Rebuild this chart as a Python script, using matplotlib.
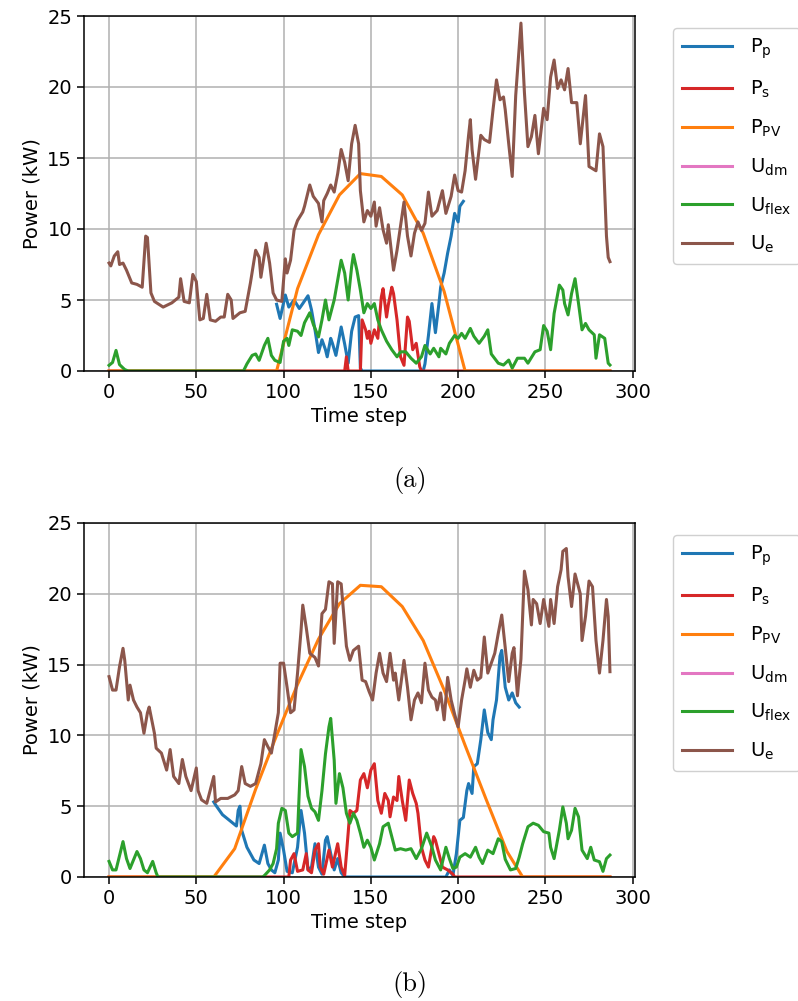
import numpy as np
import matplotlib
matplotlib.use('Agg')
import matplotlib.pyplot as plt

# ---------------- (a) ----------------
# P_p (pump) - only where it is defined
a_pp_t = [96, 98, 101, 103, 106, 109, 111, 114, 116, 118, 120, 122, 124, 125, 127, 128, 130, 133, 135, 137, 139, 141, 143, 144, 145,
          180, 181, 183, 185, 187, 189, 190, 192, 194, 196, 198, 200, 201, 203]
a_pp_v = [4.7, 3.7, 5.35, 4.5, 5.0, 4.4, 4.75, 5.3, 4.3, 2.9, 1.3, 2.2, 1.5, 1.0, 2.3, 1.95, 1.1, 3.1, 1.9, 0.55, 2.8, 3.8, 3.9, 0.2, 0.0,
          0.0, 0.5, 2.5, 4.75, 2.7, 4.75, 5.9, 6.9, 8.3, 9.5, 11.1, 10.5, 11.6, 11.95]

# P_s
a_ps_t = [0, 135, 136, 137, 144, 145, 147, 148, 149, 150, 152, 154, 156, 157, 159, 160, 162, 163, 165, 167, 169, 171, 172, 174, 176,
          178, 179, 287]
a_ps_v = [0.0, 0.0, 1.0, 0.0, 0.0, 3.6, 2.9, 2.3, 2.8, 1.95, 2.9, 2.3, 5.2, 5.8, 3.8, 4.65, 5.9, 5.45, 3.6, 1.0, 0.4, 3.8, 3.5, 1.5, 1.95,
          0.3, 0.0, 0.0]

# P_PV (hourly values)
a_pv_t = [0, 12, 24, 36, 48, 60, 72, 84, 96, 108, 120, 132, 144, 156, 168, 180, 192, 204, 216, 228, 240, 252, 264, 276, 287]
a_pv_v = [0, 0, 0, 0, 0, 0, 0, 0, 0, 5.8, 9.6, 12.4, 13.9, 13.7, 12.4, 9.7, 5.6, 0, 0, 0, 0, 0, 0, 0, 0]

# U_dm (nothing visible)
a_udm_t = []
a_udm_v = []

# U_flex
a_uf_t = [0, 2, 4, 6, 9, 11, 77, 79, 82, 84, 86, 89, 91, 93, 95, 98, 100, 102, 103, 105, 108, 110, 112, 115, 117, 120, 122, 124, 126,
          129, 131, 133, 135, 137, 139, 140, 142, 144, 146, 148, 150, 152, 154, 156, 159, 162, 165, 167, 170, 173, 176, 179, 181, 184,
          186, 189, 190, 193, 195, 198, 200, 202, 204, 207, 209, 212, 215, 217, 219, 223, 226, 229, 231, 234, 238, 240, 244, 247, 249,
          251, 253, 255, 258, 260, 261, 263, 265, 267, 269, 271, 273, 275, 278, 279, 281, 284, 286, 287]
a_uf_v = [0.4, 0.6, 1.45, 0.45, 0.1, 0.0, 0.0, 0.5, 1.1, 1.2, 0.75, 1.8, 2.3, 1.1, 0.75, 0.6, 2.1, 2.3, 1.8, 2.9, 2.8, 2.5, 3.4, 4.1, 3.3,
          2.4, 3.6, 5.0, 3.6, 5.0, 6.4, 7.8, 6.9, 5.0, 7.35, 8.2, 7.1, 5.7, 4.1, 4.75, 4.4, 4.75, 3.6, 2.9, 2.1, 1.5, 1.0, 1.35, 1.35,
          0.9, 0.55, 1.0, 1.8, 1.2, 1.6, 1.0, 1.6, 1.2, 1.95, 2.5, 2.3, 2.65, 2.3, 3.0, 2.45, 1.95, 2.45, 2.9, 1.2, 0.55, 0.42, 0.77,
          0.2, 0.9, 0.9, 0.55, 1.35, 1.5, 3.2, 2.8, 1.5, 4.05, 6.05, 5.7, 4.75, 3.95, 5.45, 6.5, 4.75, 2.9, 3.35, 2.9, 2.55, 0.9, 2.55,
          2.3, 0.55, 0.42]

# U_e
a_ue_t = [0, 1, 3, 5, 6, 8, 10, 13, 16, 19, 21, 22, 24, 26, 31, 36, 40, 41, 43, 46, 48, 50, 52, 54, 56, 58, 61, 64, 66, 68, 70, 71, 75,
          78, 81, 84, 86, 87, 90, 92, 94, 96, 99, 101, 102, 104, 106, 108, 111, 112, 115, 117, 120, 122, 123, 125, 127, 129, 131, 133,
          135, 137, 139, 141, 143, 144, 146, 148, 150, 152, 153, 155, 157, 159, 160, 163, 165, 167, 169, 171, 173, 175, 177, 179, 181,
          183, 185, 188, 191, 193, 196, 198, 200, 202, 204, 206, 207, 208, 210, 213, 215, 218, 220, 222, 224, 226, 227, 229, 231, 233,
          236, 238, 240, 242, 244, 246, 249, 251, 253, 255, 257, 259, 261, 263, 265, 268, 270, 273, 275, 279, 281, 283, 285, 286, 287]
a_ue_v = [7.6, 7.4, 8.1, 8.4, 7.5, 7.6, 7.1, 6.2, 6.1, 5.9, 9.5, 9.4, 5.5, 4.9, 4.5, 4.8, 5.2, 6.5, 4.9, 4.8, 6.8, 6.3, 3.6, 3.7, 5.4,
          3.6, 3.5, 3.8, 3.8, 5.4, 5.0, 3.7, 4.1, 4.2, 6.2, 8.5, 8.0, 6.6, 9.0, 7.6, 5.5, 5.0, 4.9, 7.9, 6.9, 7.8, 9.9, 10.6, 11.2, 11.6,
          13.1, 12.3, 11.8, 10.5, 12.0, 12.5, 13.1, 12.6, 13.9, 15.6, 14.7, 13.4, 16.0, 17.3, 16.0, 12.7, 10.5, 11.3, 10.9, 11.9, 10.2,
          11.5, 9.95, 9.0, 10.3, 7.1, 8.5, 10.2, 11.9, 9.5, 8.1, 9.7, 10.5, 9.9, 10.4, 12.6, 10.9, 11.3, 12.7, 11.1, 12.3, 13.8, 12.7,
          12.6, 14.1, 16.6, 17.7, 15.6, 13.5, 16.6, 16.3, 16.1, 18.4, 20.5, 19.1, 19.3, 18.4, 16.0, 13.7, 19.4, 24.5, 19.6, 15.8, 16.5,
          18.0, 15.3, 18.5, 17.7, 20.7, 21.9, 19.9, 20.5, 19.8, 21.3, 18.9, 18.9, 16.0, 19.4, 14.4, 14.1, 16.7, 15.8, 9.5, 8.0, 7.7]

# ---------------- (b) ----------------
b_pp_t = [60, 61, 65, 69, 73, 74, 75, 76, 79, 83, 86, 89, 91, 93, 95, 97, 98, 100, 102, 105, 108, 110, 112, 114, 116, 118, 120, 122,
          124, 125, 127, 129, 131, 133, 135, 193, 195, 197, 199, 201, 203, 205, 206, 208, 209, 211, 213, 215, 217, 219, 220, 222, 224,
          225, 227, 229, 231, 233, 235]
b_pp_v = [5.3, 5.1, 4.4, 4.0, 3.6, 4.7, 5.0, 3.3, 2.1, 1.2, 0.95, 2.25, 0.95, 0.5, 0.3, 1.2, 3.1, 1.9, 0.4, 0.3, 2.1, 4.7, 3.1, 0.5,
          0.7, 2.35, 0.7, 0.2, 2.6, 2.85, 1.65, 0.5, 1.3, 0.3, 0.0, 0.0, 0.5, 0.1, 1.65, 4.0, 4.2, 6.1, 6.6, 5.9, 7.8, 8.0, 9.7, 11.8,
          10.2, 9.7, 11.1, 12.5, 15.6, 16.0, 13.4, 12.5, 13.0, 12.3, 12.0]

b_ps_t = [0, 103, 104, 106, 108, 111, 113, 114, 116, 118, 120, 121, 123, 126, 128, 131, 133, 135, 137, 138, 140, 142, 144, 146, 148,
          150, 152, 154, 156, 158, 160, 161, 163, 165, 166, 168, 170, 172, 174, 176, 177, 179, 181, 183, 186, 187, 189, 191, 194, 197,
          198, 287]
b_ps_v = [0.0, 0.0, 1.2, 1.65, 0.4, 0.5, 1.65, 0.5, 0.3, 1.9, 2.35, 0.7, 0.2, 1.9, 0.7, 2.35, 0.7, 0.1, 3.1, 4.7, 4.5, 4.7, 6.85, 7.3,
          6.3, 7.55, 8.0, 5.4, 4.5, 5.9, 5.4, 4.25, 5.65, 5.4, 7.1, 5.4, 4.0, 6.85, 5.9, 5.2, 4.5, 2.1, 1.2, 0.7, 2.85, 2.6, 1.65, 0.7,
          0.5, 0.2, 0.0, 0.0]

b_pv_t = [0, 12, 24, 36, 48, 60, 72, 84, 96, 108, 120, 132, 144, 156, 168, 180, 192, 204, 216, 228, 237, 252, 264, 276, 287]
b_pv_v = [0, 0, 0, 0, 0, 0, 2.0, 6.2, 10.0, 13.6, 16.8, 19.3, 20.6, 20.5, 19.1, 16.7, 13.2, 9.3, 5.5, 1.8, 0, 0, 0, 0, 0]

b_udm_t = []
b_udm_v = []

b_uf_t = [0, 2, 4, 8, 10, 12, 16, 18, 20, 22, 25, 27, 28, 88, 89, 92, 94, 96, 97, 99, 101, 103, 105, 108, 110, 112, 114, 116, 118,
          120, 122, 124, 126, 127, 129, 130, 132, 134, 136, 138, 140, 142, 144, 146, 148, 150, 152, 155, 157, 160, 162, 164, 167, 170,
          173, 176, 179, 182, 185, 187, 190, 193, 195, 197, 199, 201, 204, 207, 210, 212, 214, 217, 220, 223, 225, 227, 230, 233, 235,
          237, 240, 243, 246, 249, 252, 253, 255, 258, 260, 262, 263, 265, 267, 269, 271, 274, 276, 278, 281, 283, 285, 287]
b_uf_v = [1.1, 0.5, 0.5, 2.5, 1.3, 0.6, 1.8, 1.3, 0.5, 0.3, 1.1, 0.3, 0.0, 0.0, 0.1, 0.5, 0.95, 2.0, 3.8, 4.85, 4.7, 3.1, 2.85, 3.1,
          9.0, 7.8, 5.7, 4.85, 4.6, 4.0, 6.1, 8.7, 10.6, 11.2, 8.25, 5.2, 7.3, 6.3, 4.5, 3.8, 4.5, 4.0, 3.1, 2.1, 2.6, 2.1, 1.2, 2.35,
          3.55, 3.8, 2.85, 1.9, 2.0, 1.9, 2.0, 1.3, 2.0, 3.1, 2.1, 1.2, 0.5, 2.1, 1.3, 0.6, 0.7, 1.4, 1.65, 1.4, 2.1, 1.4, 0.95, 1.9,
          1.65, 2.7, 2.5, 1.25, 0.5, 0.6, 1.4, 2.35, 3.55, 3.8, 3.65, 3.2, 3.1, 2.1, 1.3, 3.3, 4.95, 3.8, 2.7, 3.3, 4.85, 4.25, 1.9,
          1.3, 2.1, 1.2, 1.08, 0.4, 1.3, 1.55]

b_ue_t = [0, 2, 4, 6, 8, 9, 11, 12, 14, 16, 18, 20, 22, 23, 26, 27, 30, 33, 35, 37, 40, 42, 44, 47, 50, 51, 53, 56, 60, 61, 64, 68, 72,
          74, 76, 78, 81, 84, 87, 89, 91, 93, 95, 97, 98, 100, 102, 104, 106, 108, 110, 111, 113, 115, 118, 120, 122, 124, 126, 128,
          129, 131, 133, 136, 138, 140, 143, 145, 147, 149, 151, 153, 155, 157, 159, 161, 163, 164, 166, 169, 171, 173, 175, 177, 179,
          181, 183, 185, 187, 188, 190, 192, 194, 196, 198, 200, 202, 204, 205, 207, 209, 211, 213, 215, 217, 219, 221, 223, 225, 227,
          229, 231, 232, 234, 236, 238, 240, 242, 243, 245, 247, 249, 252, 253, 255, 257, 259, 260, 262, 263, 265, 267, 270, 271, 273,
          275, 277, 279, 281, 283, 285, 286, 287]
b_ue_v = [14.15, 13.2, 13.2, 14.85, 16.15, 15.3, 12.5, 13.55, 12.5, 12.0, 11.6, 10.15, 11.6, 12.0, 10.15, 9.1, 8.75, 7.55, 9.0, 7.1,
          6.6, 8.3, 7.1, 6.1, 7.7, 6.1, 5.45, 5.2, 7.1, 5.3, 5.55, 5.55, 5.8, 6.1, 7.8, 6.6, 6.4, 6.6, 8.0, 9.7, 9.2, 8.75, 10.15, 11.6,
          15.1, 15.1, 13.4, 11.6, 11.8, 14.4, 17.4, 19.2, 17.6, 15.8, 15.5, 14.9, 18.6, 18.9, 20.85, 20.7, 16.5, 20.85, 20.7, 16.3,
          15.3, 16.0, 16.3, 13.9, 13.8, 13.1, 12.5, 14.4, 15.8, 14.4, 13.8, 15.8, 13.9, 14.4, 12.5, 15.3, 13.4, 11.1, 12.5, 13.0, 12.3,
          15.1, 13.2, 12.7, 12.5, 11.8, 13.0, 11.1, 14.1, 12.5, 11.5, 10.6, 12.5, 13.9, 14.7, 13.4, 14.6, 13.9, 14.1, 16.95, 14.4, 15.1,
          15.8, 17.2, 18.5, 16.2, 13.8, 15.8, 16.2, 12.8, 15.4, 21.6, 20.3, 17.8, 19.6, 19.3, 17.9, 19.6, 17.7, 19.6, 17.9, 20.5, 21.7,
          23.0, 23.2, 21.2, 19.1, 21.4, 20.0, 16.7, 18.4, 20.9, 20.5, 16.7, 14.4, 16.7, 19.6, 18.4, 14.5]

labels = [r'$\mathrm{P_p}$', r'$\mathrm{P_s}$', r'$\mathrm{P_{PV}}$', r'$\mathrm{U_{dm}}$', r'$\mathrm{U_{flex}}$', r'$\mathrm{U_e}$']
colors = ['#1f77b4', '#d62728', '#ff7f0e', '#e377c2', '#2ca02c', '#8c564b']

panels = [
    ([a_pp_t, a_ps_t, a_pv_t, a_udm_t, a_uf_t, a_ue_t], [a_pp_v, a_ps_v, a_pv_v, a_udm_v, a_uf_v, a_ue_v]),
    ([b_pp_t, b_ps_t, b_pv_t, b_udm_t, b_uf_t, b_ue_t], [b_pp_v, b_ps_v, b_pv_v, b_udm_v, b_uf_v, b_ue_v]),
]

fig = plt.figure(figsize=(7.98, 10.01), dpi=100)
# axes boxes in pixels of the 798x1001 picture: (left, top, right, bottom)
boxes = [(84, 16, 635, 371), (84, 523, 635, 877)]
captions = ['(a)', '(b)']
caption_y = [481, 985]

for (ts, vs), box, cap, cy in zip(panels, boxes, captions, caption_y):
    l, t, r, b = box
    ax = fig.add_axes([l / 798, 1 - b / 1001, (r - l) / 798, (b - t) / 1001])
    for tt, vv, lab, c in zip(ts, vs, labels, colors):
        ax.plot(tt, vv, color=c, lw=2.2, label=lab)
    ax.set_xlim(-14.35, 301.35)
    ax.set_ylim(0, 25)
    ax.set_xticks(np.arange(0, 301, 50))
    ax.set_yticks(np.arange(0, 26, 5))
    ax.grid(True, color='#b0b0b0', lw=1.1)
    ax.set_axisbelow(True)
    ax.tick_params(labelsize=14, length=5, width=1.1)
    for s in ax.spines.values():
        s.set_linewidth(1.1)
    ax.set_xlabel('Time step', fontsize=14)
    ax.set_ylabel('Power (kW)', fontsize=14)
    # legend sits outside on the right, partly cut by the figure edge like the original
    ax.legend(loc='upper left', bbox_to_anchor=(1.069, 0.966), borderaxespad=0, fontsize=14, handlelength=2.6,
              labelspacing=0.9, borderpad=0.45, handletextpad=0.9, framealpha=1.0, edgecolor='#d0d0d0')
    fig.text(410 / 798, 1 - cy / 1001, cap, ha='center', va='center', fontfamily='cmr10', fontsize=19)

fig.savefig('out.png', dpi=100)
